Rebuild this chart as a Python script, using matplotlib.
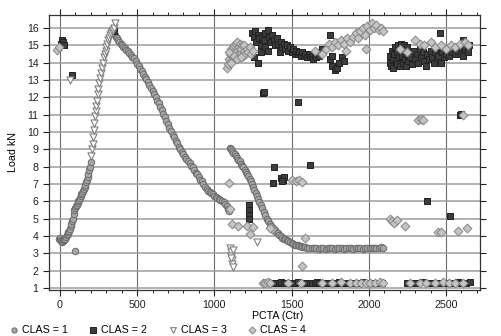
import matplotlib
matplotlib.use("Agg")
import matplotlib.pyplot as plt
from matplotlib.ticker import MultipleLocator

plt.rcParams['font.family'] = ['Liberation Sans', 'DejaVu Sans']

# ---------------- data ----------------
# CLAS = 1 (circles)
c1_x = [-5, 0, 5, 10, 15, 20, 25, 30, 35, 40, 45, 50, 55, 60, 65, 70, 75, 80, 85, 90, 95, 100, 105, 110, 115,
        120, 125, 130, 135, 140, 145, 150, 155, 160, 165, 170, 175, 180, 185, 190, 195, 200, 97,
        345, 355, 362, 370, 378, 386, 394, 402, 410, 420, 430, 440, 450, 460, 470, 480, 490, 500, 510, 520,
        530, 540, 550, 560, 570, 580, 590, 600, 610, 620, 630, 640, 650, 660, 670, 680, 690, 700, 710, 720,
        730, 740, 750, 760, 770, 780, 790, 800, 810, 820, 830, 840, 850, 860, 870, 880, 890, 900, 910, 920,
        930, 940, 950, 960, 970, 980, 990, 1000, 1010, 1020, 1030, 1040, 1050, 1060, 1070, 1080, 1090, 1095,
        1100, 1108, 1116, 1124, 1132, 1140, 1148, 1156, 1164, 1172, 1180, 1188, 1196, 1204, 1212, 1220, 1228,
        1236, 1244, 1252, 1260, 1268, 1276, 1284, 1292, 1300, 1310, 1320, 1330, 1340, 1350, 1360, 1370, 1380,
        1390, 1400, 1410, 1420, 1430, 1440, 1450, 1460, 1470, 1480, 1490, 1500, 1510, 1520, 1530, 1540, 1550,
        1560, 1570, 1580, 1590, 1600, 1615, 1630, 1645, 1660, 1675, 1690, 1705, 1720, 1735, 1750, 1765, 1780,
        1795, 1810, 1825, 1840, 1855, 1870, 1885, 1900, 1915, 1930, 1945, 1960, 1975, 1990, 2005, 2020, 2035,
        2050, 2065, 2080, 2095]
c1_y = [3.8, 3.9, 3.75, 3.7, 3.65, 3.7, 3.75, 3.8, 3.85, 3.95, 4.05, 4.1, 4.2, 4.3, 4.4, 4.55, 4.7, 4.85, 5.0,
        5.25, 5.5, 5.6, 5.7, 5.8, 5.9, 6.0, 6.1, 6.2, 6.3, 6.4, 6.5, 6.6, 6.7, 6.8, 6.95, 7.1, 7.25, 7.4, 7.6,
        7.8, 8.0, 8.25, 3.15,
        15.7, 15.6, 15.5, 15.4, 15.3, 15.2, 15.1, 15.0, 14.92, 14.83, 14.75, 14.65, 14.55, 14.45, 14.35, 14.25,
        14.1, 13.95, 13.8, 13.65, 13.5, 13.35, 13.2, 13.05, 12.9, 12.7, 12.55, 12.35, 12.2, 12.0, 11.8, 11.65,
        11.45, 11.25, 11.05, 10.85, 10.65, 10.45, 10.25, 10.05, 9.85, 9.7, 9.5, 9.35, 9.15, 9.0, 8.85, 8.7,
        8.55, 8.45, 8.3, 8.2, 8.05, 7.95, 7.8, 7.65, 7.55, 7.4, 7.25, 7.15, 7.0, 6.85, 6.7, 6.6, 6.55, 6.45,
        6.4, 6.3, 6.25, 6.2, 6.15, 6.05, 6.0, 5.95, 5.85, 5.7, 5.55, 5.45,
        9.1, 9.0, 8.9, 8.8, 8.7, 8.6, 8.5, 8.4, 8.3, 8.15, 8.05, 7.95, 7.8, 7.7, 7.55, 7.45, 7.3, 7.15, 7.0,
        6.85, 6.65, 6.5, 6.3, 6.15, 5.95, 5.8, 5.6, 5.4, 5.2, 5.0, 4.85, 4.7, 4.55, 4.45, 4.35, 4.25, 4.15,
        4.05, 4.0, 3.9, 3.85, 3.8, 3.75, 3.7, 3.65, 3.6, 3.55, 3.5, 3.48, 3.45, 3.42, 3.4, 3.38, 3.36, 3.34,
        3.33, 3.32, 3.3, 3.28, 3.3, 3.27, 3.3, 3.29, 3.25, 3.3, 3.28, 3.3, 3.26, 3.3, 3.28, 3.3, 3.27, 3.3,
        3.29, 3.3, 3.26, 3.3, 3.28, 3.3, 3.27, 3.3, 3.29, 3.3, 3.28, 3.3, 3.32, 3.3, 3.35, 3.3]

# CLAS = 2 (squares)
c2_x = [10, 15, 20, 25, 78, 352,
        1245, 1255, 1262, 1270, 1280, 1290, 1300, 1310, 1320, 1330, 1346, 1355, 1365, 1375, 1385, 1395, 1405,
        1415, 1423, 1430, 1440, 1450, 1460, 1470, 1480, 1490, 1500, 1510, 1520, 1530, 1540, 1550, 1560, 1570,
        1580, 1590, 1600, 1610, 1620, 1630, 1640, 1650, 1660, 1670, 1680, 1690, 1700, 1281, 1260, 1300, 1330,
        1350, 1747, 1750, 1765, 1780, 1795, 1810, 1825, 1840, 1760,
        1225, 1225, 1225, 1225, 1314, 1322, 1540, 1385, 1617, 1378, 1435, 1445, 1450, 1440, 2375, 2524, 2588,
        2600,
        2135, 2140, 2145, 2150, 2155, 2160, 2165, 2170, 2175, 2180, 2185, 2190, 2195, 2200, 2205, 2210, 2215,
        2220, 2225, 2230, 2235, 2240, 2245, 2250, 2255, 2260, 2270, 2280, 2290, 2300, 2310, 2320, 2330, 2340,
        2350, 2360, 2370, 2380, 2390, 2400, 2410, 2420, 2430, 2440, 2450, 2459, 2465, 2475, 2490, 2500, 2520,
        2540, 2560, 2580, 2600, 2608, 2610, 2620, 2640, 2650,
        1375, 1390, 1405, 1420, 1435, 1450, 1465, 1495, 1510, 1525, 1540, 1575, 1590, 1605, 1620, 1635, 1650,
        1665, 1680, 1715, 1730, 1745, 1775, 1790, 1805, 1835, 1850, 1865, 1900, 1935, 1965, 1995, 2025, 2055,
        2085, 2250, 2285, 2300, 2315, 2345, 2390, 2405, 2450, 2465, 2500, 2540, 2580, 2595, 2630, 2655]
c2_y = [15.1, 15.3, 15.2, 15.0, 13.3, 15.8,
        15.7, 15.5, 15.8, 15.2, 15.6, 15.4, 15.0, 15.5, 15.3, 15.7, 15.9, 15.5, 15.2, 15.6, 15.3, 15.0, 15.4,
        15.1, 14.6, 15.2, 14.9, 15.1, 14.8, 15.0, 14.7, 14.9, 14.6, 14.8, 14.5, 14.7, 14.5, 14.6, 14.4, 14.6,
        14.4, 14.5, 14.3, 14.5, 14.3, 14.4, 14.2, 14.4, 14.3, 14.5, 14.4, 14.6, 14.8, 14.0, 14.3, 14.6, 14.9,
        14.7, 15.6, 14.2, 13.8, 13.6, 13.7, 14.0, 14.3, 14.1, 14.4,
        5.8, 5.5, 5.2, 4.95, 12.25, 12.3, 11.75, 8.0, 8.1, 7.05, 7.35, 7.25, 7.4, 7.15, 6.0, 5.15, 11.0,
        11.05,
        14.0, 14.4, 13.8, 14.7, 14.2, 13.7, 14.5, 14.9, 14.1, 13.9, 14.6, 15.0, 14.3, 13.8, 14.8, 15.1, 14.4,
        14.0, 14.7, 15.0, 14.2, 13.8, 14.5, 14.9, 14.1, 14.6, 14.3, 13.9, 14.7, 14.2, 14.5, 14.0, 14.8, 14.3,
        14.6, 14.1, 13.8, 14.5, 14.2, 14.7, 14.3, 14.0, 14.6, 14.25, 14.4, 15.7, 14.0, 14.6, 14.3, 14.5, 14.4,
        14.6, 14.5, 14.7, 14.5, 15.3, 14.4, 14.8, 14.6, 15.0,
        1.3, 1.3, 1.28, 1.3, 1.32, 1.3, 1.3, 1.28, 1.3, 1.3, 1.32, 1.3, 1.3, 1.28, 1.3, 1.3, 1.3, 1.32, 1.3,
        1.3, 1.28, 1.3, 1.3, 1.3, 1.32, 1.3, 1.28, 1.3, 1.3, 1.3, 1.32, 1.3, 1.3, 1.28, 1.3, 1.3, 1.3, 1.28,
        1.3, 1.32, 1.3, 1.3, 1.3, 1.28, 1.3, 1.3, 1.32, 1.3, 1.3, 1.33]

# CLAS = 3 (triangles)
c3_x = [205, 210, 213, 216, 220, 224, 228, 232, 236, 240, 245, 250, 255, 260, 266, 272, 278, 284, 290, 296,
        302, 308, 314, 320, 326, 332, 338, 344, 350, 356, 65,
        1100, 1105, 1110, 1112, 1115, 1118, 1120, 1108, 1274]
c3_y = [8.6, 9.0, 9.3, 9.7, 10.1, 10.5, 10.9, 11.2, 11.5, 11.8, 12.2, 12.5, 12.8, 13.1, 13.4, 13.7, 14.0,
        14.3, 14.5, 14.7, 14.9, 15.1, 15.3, 15.4, 15.6, 15.7, 15.8, 15.9, 16.0, 16.3, 13.0,
        3.3, 3.05, 2.85, 2.6, 2.4, 2.2, 3.2, 2.75, 3.65]

# CLAS = 4 (diamonds)
c4_x = [-15, -8,
        1085, 1090, 1095, 1100, 1105, 1110, 1115, 1120, 1125, 1130, 1135, 1140, 1145, 1150, 1155, 1160, 1165,
        1170, 1175, 1180, 1185, 1190, 1195, 1200, 1210, 1220, 1230, 1240, 1250, 1095, 1110, 1130, 1150, 1170,
        1720, 1740, 1760, 1780, 1800, 1820, 1840, 1860, 1880, 1900, 1915, 1930, 1945, 1960, 1975, 1990, 2005,
        2020, 2035, 2050, 2065, 2080, 2090, 1985, 1850, 1700, 1650,
        2300, 2330, 2360, 2400, 2430, 2470, 2500, 2530, 2560, 2590, 2620, 2645, 2200, 2250,
        1094, 1100, 1113, 1152, 1210, 1249, 1229, 1372, 1359, 1585, 1565, 1505, 1530, 1550, 1570, 2135, 2150,
        2165, 2180, 2233, 2447, 2470, 2575, 2633, 2320, 2335, 2350, 2612,
        1314, 1330, 1345, 1360, 1480, 1560, 1700, 1760, 1820, 1880, 1920, 1950, 1980, 2010, 2040, 2070, 2095,
        2270, 2330, 2370, 2430, 2480, 2520, 2560, 2610]
c4_y = [14.75, 14.9,
        13.7, 13.9, 14.2, 14.5, 14.1, 14.8, 14.4, 14.9, 14.6, 15.0, 14.3, 15.1, 14.7, 15.2, 14.5, 14.9, 15.1,
        14.6, 14.8, 15.0, 14.4, 14.7, 15.0, 14.5, 14.8, 14.6, 14.9, 14.5, 14.7, 14.6, 14.0, 14.4, 14.2, 14.3,
        14.8, 15.1, 14.9, 15.2, 15.0, 15.3, 15.1, 15.4, 15.2, 15.5, 15.7, 15.4, 15.8, 16.0, 15.6, 16.1, 15.9,
        16.3, 16.0, 16.2, 15.9, 16.0, 15.8, 14.8, 14.7, 14.5, 14.7,
        15.3, 15.1, 15.0, 15.2, 14.9, 15.0, 14.8, 15.0, 14.9, 15.1, 15.2, 15.0, 14.8, 14.6,
        7.05, 5.55, 4.7, 4.6, 4.55, 4.5, 4.1, 4.4, 4.45, 3.9, 2.25, 7.2, 7.15, 7.2, 7.1, 5.0, 4.85,
        4.75, 4.9, 4.6, 4.2, 4.25, 4.3, 4.45, 10.7, 10.75, 10.7, 11.0,
        1.3, 1.3, 1.32, 1.3, 1.3, 1.28, 1.3, 1.3, 1.32, 1.3, 1.3, 1.28, 1.3, 1.3, 1.3, 1.32, 1.3,
        1.3, 1.28, 1.3, 1.3, 1.32, 1.3, 1.3, 1.3]

x_ticks = [0, 500, 1000, 1500, 2000, 2500]
y_ticks = list(range(1, 17))
labels = ['CLAS = 1', 'CLAS = 2', 'CLAS = 3', 'CLAS = 4']

# ---------------- plot ----------------
fig = plt.figure(figsize=(5.02, 3.36), dpi=100)
ax = fig.add_axes([49/502, 1 - 290/336, 431/502, 275/336])

ms = 22
ax.scatter(c1_x, c1_y, s=ms, marker='o', facecolor='#a6a6a6', edgecolor='#6a6a6a', linewidth=0.7,
           label=labels[0], zorder=3)
ax.scatter(c2_x, c2_y, s=ms, marker='s', facecolor='#3c3c3c', edgecolor='#222222', linewidth=0.7,
           label=labels[1], zorder=3)
ax.scatter(c3_x, c3_y, s=ms + 4, marker='v', facecolor='white', edgecolor='#808080', linewidth=0.8,
           label=labels[2], zorder=3)
ax.scatter(c4_x, c4_y, s=ms - 2, marker='D', facecolor='#c4c4c4', edgecolor='#868686', linewidth=0.7,
           label=labels[3], zorder=3)

ax.set_xlim(-70, 2720)
ax.set_ylim(0.88, 16.75)
ax.set_xticks(x_ticks)
ax.set_yticks(y_ticks)
ax.xaxis.set_minor_locator(MultipleLocator(100))
ax.xaxis.grid(True, which='major', color='#6e6e6e', linewidth=0.8, zorder=0)
ax.yaxis.grid(True, which='major', color='#9c9c9c', linewidth=1.1, zorder=0)
ax.set_axisbelow(True)
ax.tick_params(axis='both', which='both', direction='out', top=True, right=True, labelsize=7.7,
               colors='#222222', labelcolor='#222222')
ax.tick_params(which='major', length=4, width=0.8)
ax.tick_params(which='minor', length=2.5, width=0.7)
for sp in ax.spines.values():
    sp.set_color('#333333')
    sp.set_linewidth(0.9)

ax.set_xlabel('PCTA (Ctr)', fontsize=7.7)
ax.xaxis.set_label_coords(0.53, -0.076)
ax.set_ylabel('Load kN', fontsize=7.7, labelpad=6)

leg = fig.legend(loc='center left', bbox_to_anchor=(9.5/502, 1 - 330/336), ncol=4, frameon=False,
                 fontsize=7.7, handletextpad=0.35, columnspacing=2.0, markerscale=0.8, handlelength=0.8,
                 borderpad=0, borderaxespad=0)

fig.savefig('out.png', dpi=100)
